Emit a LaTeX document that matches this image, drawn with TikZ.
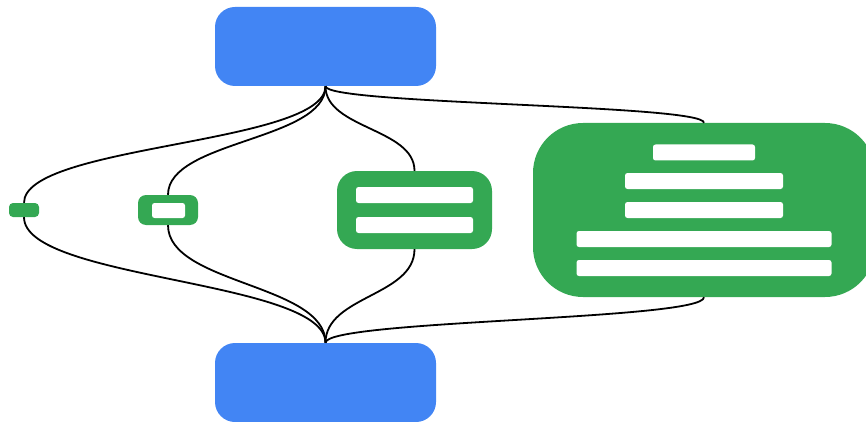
\documentclass[tikz,border=0pt]{standalone}
\usepackage{tikz}
\usetikzlibrary{positioning}
\definecolor{gblue}{HTML}{4285F4}
\definecolor{ggreen}{HTML}{34A853}

\begin{document}
\begin{tikzpicture}[
    x=1pt, y=-1pt,
    endbox/.style={rectangle, fill=gblue, rounded corners=20pt, minimum width=221pt, minimum height=79pt, inner sep=0pt},
    stage/.style={rectangle, fill=ggreen, rounded corners=#1, inner sep=0pt},
    bar/.style={rectangle, fill=white, rounded corners=2.5pt, minimum height=16pt, inner sep=0pt},
    link/.style={line width=1.8pt, black}
]
    \useasboundingbox (0,0) rectangle (866,422);

    \node[endbox] (top) at (325.5,46.5) {};
    \node[endbox] (bottom) at (325.5,382.5) {};

    \node[stage=4pt, minimum width=30pt, minimum height=14pt] (g1) at (24,210) {};
    \node[stage=8pt, minimum width=60pt, minimum height=30pt] (g2) at (168,210) {};
    \node[stage=20pt, minimum width=155pt, minimum height=78pt] (g3) at (414.5,210) {};
    \node[stage=50pt, minimum width=342pt, minimum height=174pt] (g4) at (704,210) {};

    \node[bar, minimum width=33pt, minimum height=15pt] (b21) at (168.5,210.5) {};
    \node[bar, minimum width=117pt] (b31) at (414.5,195) {};
    \node[bar, minimum width=117pt] (b32) at (414.5,225) {};
    \node[bar, minimum width=102pt] (b41) at (704,152.5) {};
    \node[bar, minimum width=158pt] (b42) at (704,181) {};
    \node[bar, minimum width=158pt] (b43) at (704,210) {};
    \node[bar, minimum width=255pt] (b44) at (704,239) {};
    \node[bar, minimum width=255pt] (b45) at (704,268) {};

    \foreach \g/\da/\db in {g1/58.5/63, g2/54.5/59, g3/42.5/47, g4/18.5/23} {
        \draw[link] (top.south) .. controls +(0,\da) and +(0,-\da) .. (\g.north);
        \draw[link] (\g.south) .. controls +(0,\db) and +(0,-\db) .. (bottom.north);
    }
\end{tikzpicture}
\end{document}
